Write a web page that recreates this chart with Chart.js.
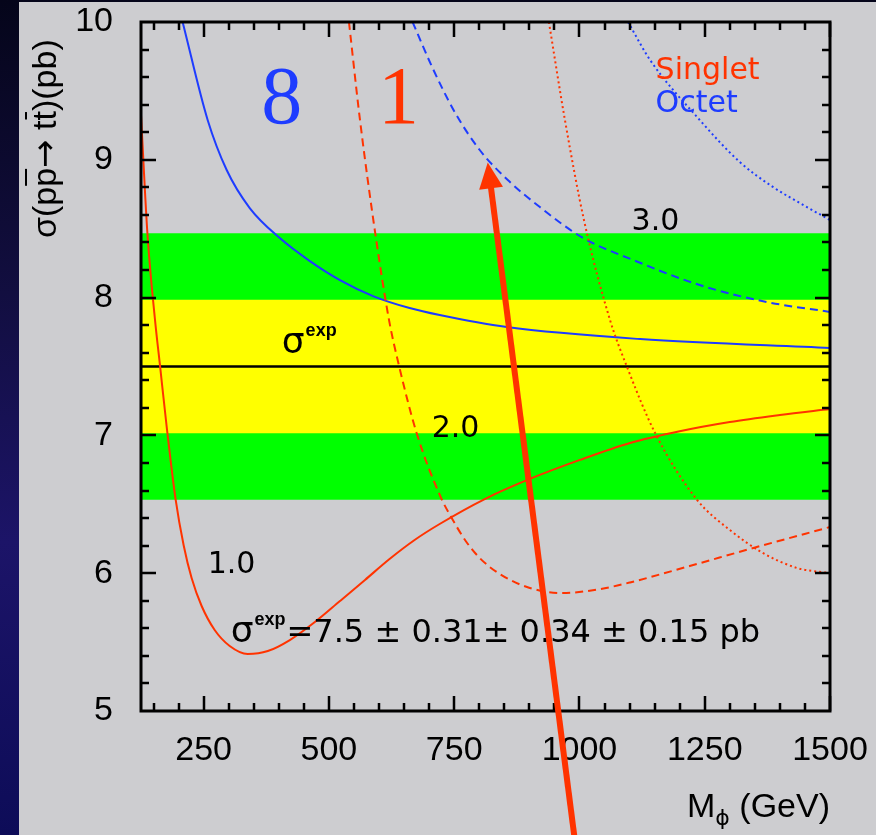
<!DOCTYPE html>
<html>
<head>
<meta charset="utf-8">
<script src="https://cdn.jsdelivr.net/npm/chart.js@4/dist/chart.umd.min.js"></script>
<style>
  html, body { margin: 0; padding: 0; width: 876px; height: 835px; overflow: hidden; }
  body { background: linear-gradient(to bottom, #05051a 0%, #120e40 35%, #1c1468 65%, #0d0c58 100%); position: relative; }
  #panel { position: absolute; left: 19px; top: 2px; width: 857px; height: 833px; background: #cdcdd0; }
  #c { position: absolute; left: 0; top: 0; }
</style>
</head>
<body>
<div id="panel"></div>
<canvas id="c" width="876" height="835"></canvas>
<script>
// Measured cross section and its uncertainties (pb)
const sigmaExp = 7.5;
const sigmaErrors = [0.31, 0.34, 0.15];

// Axis ranges and labelled ticks
const massRange = [125, 1500];
const xsecRange = [5, 10];
const massTicks = [250, 500, 750, 1000, 1250, 1500];
const xsecTicks = [5, 6, 7, 8, 9, 10];

// sigma(pp -> tt) versus M_phi, [GeV, pb], for couplings 1.0 / 2.0 / 3.0
const singlet1 = [[125, 9.325], [138, 8.454], [153, 7.837], [163, 7.504], [177, 7.039], [194, 6.538],
  [210, 6.205], [226, 5.965], [246, 5.762], [272, 5.588], [302, 5.472], [338, 5.414], [378, 5.435],
  [422, 5.515], [472, 5.646], [522, 5.798], [572, 5.951], [621, 6.103], [671, 6.241], [721, 6.357],
  [811, 6.538], [901, 6.684], [1001, 6.822], [1101, 6.945], [1200, 7.03], [1300, 7.097], [1400, 7.148],
  [1500, 7.192]];
const singlet2 = [[540, 10.0], [562, 9.289], [593, 8.454], [620, 7.837], [640, 7.504], [675, 7.017],
  [723, 6.553], [745, 6.401], [773, 6.234], [801, 6.110], [841, 5.994], [901, 5.893], [967, 5.856],
  [1041, 5.885], [1101, 5.933], [1220, 6.052], [1340, 6.176], [1500, 6.335]];
const singlet3 = [[939, 10.0], [971, 9.289], [1009, 8.563], [1061, 7.837], [1095, 7.496], [1151, 7.017],
  [1235, 6.531], [1300, 6.314], [1366, 6.147], [1434, 6.038], [1466, 6.016], [1500, 6.001]];
const octet1 = [[208, 10.0], [258, 9.289], [296, 8.926], [342, 8.650], [402, 8.432], [462, 8.265],
  [522, 8.127], [588, 8.011], [661, 7.924], [721, 7.873], [855, 7.786], [1121, 7.699], [1500, 7.634]];
const octet2 = [[667, 10.0], [705, 9.681], [751, 9.347], [801, 9.071], [857, 8.853], [921, 8.657],
  [1007, 8.433], [1107, 8.273], [1240, 8.091], [1374, 7.968], [1500, 7.896]];
const octet3 = [[1097, 10.0], [1141, 9.724], [1240, 9.289], [1320, 8.984], [1386, 8.803], [1454, 8.657],
  [1500, 8.563]];

// Arrow marking the preferred mass region: tail and tip as [GeV, pb]
const arrowTail = [993, 4.0];
const arrowTip = [817, 8.98];

const RED = '#ff3300';
const BLUE = '#1e3cff';

const sigmaTot = Math.sqrt(sigmaErrors.reduce((s, e) => s + e * e, 0));
const toPts = (arr) => arr.map(([m, s]) => ({ x: m, y: s }));
const flat = (v) => [{ x: massRange[0], y: v }, { x: massRange[1], y: v }];

const curve = (label, pts, color, dash) => ({
  label, data: toPts(pts), borderColor: color, borderWidth: 2, borderDash: dash,
  pointRadius: 0, cubicInterpolationMode: 'monotone', fill: false, order: 1
});

// Frame with inward ticks, text annotations and the arrow
const decorations = {
  id: 'decorations',
  afterDatasetsDraw(chart) {
    const { ctx, chartArea: a, scales: { x, y } } = chart;
    const px = (m) => x.getPixelForValue(m);
    const py = (s) => y.getPixelForValue(s);
    ctx.save();

    // labels inside the plot
    const text = (str, m, s, font, color, align) => {
      ctx.font = font; ctx.fillStyle = color; ctx.textAlign = align || 'left'; ctx.textBaseline = 'alphabetic';
      ctx.fillText(str, px(m), py(s));
    };
    text('8', 406, 9.267, '82px "Liberation Serif"', BLUE, 'center');
    text('1', 639, 9.267, '82px "Liberation Serif"', RED, 'center');
    text('Singlet', 1152, 9.586, '30px "DejaVu Sans"', RED);
    text('Octet', 1152, 9.347, '30px "DejaVu Sans"', BLUE);
    text('3.0', 1104, 8.49, '30px "DejaVu Sans"', '#000');
    text('2.0', 705, 6.99, '30px "DejaVu Sans"', '#000');
    text('1.0', 258, 6.0, '30px "DejaVu Sans"', '#000');

    const sigmaSup = (m, s, tail, size) => {
      ctx.fillStyle = '#000'; ctx.textAlign = 'left'; ctx.textBaseline = 'alphabetic';
      let cx = px(m); const cy = py(s);
      ctx.font = (size + 4) + 'px "DejaVu Sans"';
      ctx.fillText('σ', cx, cy); cx += ctx.measureText('σ').width + 1;
      ctx.font = 'bold ' + Math.round(size * 0.56) + 'px "Liberation Sans"';
      ctx.fillText('exp', cx, cy - size * 0.52); cx += ctx.measureText('exp').width + 1;
      if (tail) { ctx.font = size + 'px "DejaVu Sans"'; ctx.fillText(tail, cx, cy); }
    };
    sigmaSup(406, 7.598, '', 32);
    sigmaSup(304, 5.50, '=7.5 ± 0.31± 0.34 ± 0.15 pb', 32);

    // frame
    ctx.strokeStyle = '#000';
    ctx.lineWidth = 3;
    ctx.strokeRect(a.left, a.top, a.right - a.left, a.bottom - a.top);
    ctx.lineWidth = 2.5;
    ctx.beginPath();
    for (let m = 150; m <= massRange[1]; m += 50) {
      const len = m % 250 === 0 ? 15 : 8;
      const X = Math.round(px(m));
      ctx.moveTo(X, a.bottom); ctx.lineTo(X, a.bottom - len);
      ctx.moveTo(X, a.top); ctx.lineTo(X, a.top + len);
    }
    for (let k = 1; k < 25; k++) {
      const s = xsecRange[0] + k * 0.2;
      const len = k % 5 === 0 ? 15 : 8;
      const Y = Math.round(py(s));
      ctx.moveTo(a.left, Y); ctx.lineTo(a.left + len, Y);
      ctx.moveTo(a.right, Y); ctx.lineTo(a.right - len, Y);
    }
    ctx.stroke();

    // y axis title with overlined antiquark symbols
    ctx.save();
    ctx.translate(a.left - 85, a.top + 216);
    ctx.rotate(-Math.PI / 2);
    ctx.fillStyle = '#000'; ctx.textAlign = 'left'; ctx.textBaseline = 'alphabetic';
    let tx = 0;
    const parts = [['σ(p', false, 'Liberation Sans'], ['p', true, 'Liberation Sans'], ['→', false, 'DejaVu Sans'],
      [' t', false, 'Liberation Sans'], ['t', true, 'Liberation Sans'], [')(pb)', false, 'Liberation Sans']];
    for (const [s, bar, fam] of parts) {
      ctx.font = '34px "' + fam + '"';
      ctx.fillText(s, tx, 0);
      const w = ctx.measureText(s).width;
      if (bar) ctx.fillRect(tx + 1, -31, w - 2, 2);
      tx += w;
    }
    ctx.restore();

    // x axis title with subscript phi, right aligned
    const base = a.bottom + 106;
    ctx.font = '34px "Liberation Sans"';
    const wTail = ctx.measureText(' (GeV)').width;
    const wM = ctx.measureText('M').width;
    ctx.font = '22px "DejaVu Sans"';
    const wPhi = ctx.measureText('ϕ').width;
    let sx = a.right - wTail - wPhi - wM;
    ctx.textAlign = 'left';
    ctx.font = '34px "Liberation Sans"';
    ctx.fillText('M', sx, base); sx += wM;
    ctx.font = '22px "DejaVu Sans"';
    ctx.fillText('ϕ', sx, base + 8); sx += wPhi;
    ctx.font = '34px "Liberation Sans"';
    ctx.fillText(' (GeV)', sx, base);
    ctx.restore();
  },
  afterDraw(chart) {
    const { ctx, scales: { x, y } } = chart;
    const x0 = x.getPixelForValue(arrowTail[0]), y0 = y.getPixelForValue(arrowTail[1]);
    const x1 = x.getPixelForValue(arrowTip[0]), y1 = y.getPixelForValue(arrowTip[1]);
    const ang = Math.atan2(y1 - y0, x1 - x0);
    const headLen = 26, headHalf = 12;
    const bx = x1 - headLen * Math.cos(ang), by = y1 - headLen * Math.sin(ang);
    ctx.save();
    ctx.strokeStyle = RED; ctx.fillStyle = RED; ctx.lineWidth = 6;
    ctx.beginPath(); ctx.moveTo(x0, y0); ctx.lineTo(bx + 4 * Math.cos(ang), by + 4 * Math.sin(ang)); ctx.stroke();
    ctx.beginPath();
    ctx.moveTo(x1, y1);
    ctx.lineTo(bx + headHalf * Math.sin(ang), by - headHalf * Math.cos(ang));
    ctx.lineTo(bx - headHalf * Math.sin(ang), by + headHalf * Math.cos(ang));
    ctx.closePath(); ctx.fill();
    ctx.restore();
  }
};

new Chart(document.getElementById('c'), {
  type: 'line',
  data: {
    datasets: [
      curve('Singlet 1.0', singlet1, RED, []),
      curve('Singlet 2.0', singlet2, RED, [8, 5]),
      curve('Singlet 3.0', singlet3, RED, [2, 3]),
      curve('Octet 1.0', octet1, BLUE, []),
      curve('Octet 2.0', octet2, BLUE, [8, 5]),
      curve('Octet 3.0', octet3, BLUE, [2, 3]),
      { label: 'σexp', data: flat(sigmaExp), borderColor: '#000', borderWidth: 2.5, pointRadius: 0, fill: false, order: 5 },
      { label: '±1σ', data: flat(sigmaExp + sigmaTot), borderColor: 'transparent', borderWidth: 0, pointRadius: 0,
        fill: { value: sigmaExp - sigmaTot }, backgroundColor: '#ffff00', order: 6 },
      { label: '±2σ', data: flat(sigmaExp + 2 * sigmaTot), borderColor: 'transparent', borderWidth: 0, pointRadius: 0,
        fill: { value: sigmaExp - 2 * sigmaTot }, backgroundColor: '#00ff00', order: 7 }
    ]
  },
  options: {
    responsive: false,
    animation: false,
    devicePixelRatio: 1,
    layout: { padding: { top: 22, right: 46, left: 0, bottom: 0 } },
    plugins: { legend: { display: false }, tooltip: { enabled: false } },
    scales: {
      x: {
        type: 'linear', min: massRange[0], max: massRange[1],
        afterBuildTicks: (s) => { s.ticks = massTicks.map(v => ({ value: v })); },
        afterFit: (s) => { s.height = 124; s.paddingLeft = 0; s.paddingRight = 0; },
        grid: { display: false, drawTicks: false }, border: { display: false },
        ticks: { font: { family: 'Liberation Sans', size: 34 }, color: '#000', padding: 19, maxRotation: 0,
          autoSkip: false, callback: (v) => String(v) }
      },
      y: {
        min: xsecRange[0], max: xsecRange[1],
        afterBuildTicks: (s) => { s.ticks = xsecTicks.map(v => ({ value: v })); },
        afterFit: (s) => { s.width = 141; s.paddingTop = 0; s.paddingBottom = 0; },
        grid: { display: false, drawTicks: false }, border: { display: false },
        ticks: { font: { family: 'Liberation Sans', size: 34 }, color: '#000', padding: 28, callback: (v) => String(v) }
      }
    }
  },
  plugins: [decorations]
});
</script>
</body>
</html>
